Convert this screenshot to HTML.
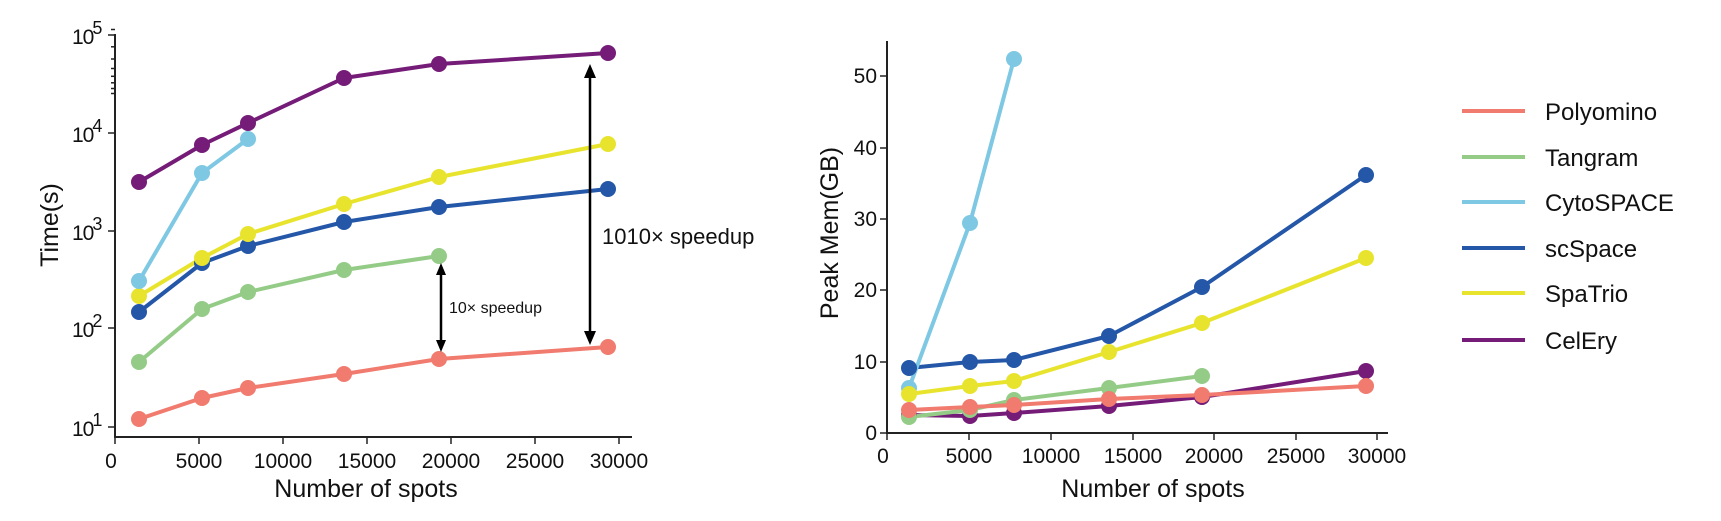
<!DOCTYPE html>
<html><head><meta charset="utf-8"><style>
body{margin:0;background:#fff}
svg{display:block;font-family:"Liberation Sans",sans-serif}
</style></head><body>
<svg width="1721" height="521" viewBox="0 0 1721 521" xmlns="http://www.w3.org/2000/svg">
<rect width="1721" height="521" fill="#fff"/>
<!-- LEFT CHART -->
<g stroke="#222" stroke-width="2" fill="none">
<line x1="115" y1="34" x2="115" y2="438"/>
<line x1="114" y1="437" x2="632" y2="437"/>
</g>
<g stroke="#222" stroke-width="1.5">
<line x1="108" y1="35" x2="115" y2="35"/><line x1="108" y1="133" x2="115" y2="133"/><line x1="108" y1="231" x2="115" y2="231"/><line x1="108" y1="328" x2="115" y2="328"/><line x1="108" y1="427" x2="115" y2="427"/>
<g id="mn">
<line x1="111" y1="0" x2="115" y2="0" transform="translate(0,29.5)"/>
<line x1="111" y1="0" x2="115" y2="0" transform="translate(0,46.8)"/>
<line x1="111" y1="0" x2="115" y2="0" transform="translate(0,59)"/>
<line x1="111" y1="0" x2="115" y2="0" transform="translate(0,68.5)"/>
<line x1="111" y1="0" x2="115" y2="0" transform="translate(0,76.3)"/>
<line x1="111" y1="0" x2="115" y2="0" transform="translate(0,82.8)"/>
<line x1="111" y1="0" x2="115" y2="0" transform="translate(0,88.5)"/>
<line x1="111" y1="0" x2="115" y2="0" transform="translate(0,93.5)"/>
</g>
<use href="#mn" transform="translate(0,-98)"/>
<use href="#mn" transform="translate(0,-196)"/>
<use href="#mn" transform="translate(0,-294)"/>
<use href="#mn" transform="translate(0,-392)"/>
<line x1="115" y1="437" x2="115" y2="444"/><line x1="199" y1="437" x2="199" y2="444"/><line x1="283" y1="437" x2="283" y2="444"/><line x1="367" y1="437" x2="367" y2="444"/><line x1="451" y1="437" x2="451" y2="444"/><line x1="535" y1="437" x2="535" y2="444"/><line x1="619" y1="437" x2="619" y2="444"/>
</g>
<g font-size="21" fill="#111" letter-spacing="-1">
<text x="72" y="44">10<tspan font-size="18" dy="-10" dx="-1">5</tspan></text>
<text x="72" y="142">10<tspan font-size="18" dy="-10" dx="-1">4</tspan></text>
<text x="72" y="240">10<tspan font-size="18" dy="-10" dx="-1">3</tspan></text>
<text x="72" y="337">10<tspan font-size="18" dy="-10" dx="-1">2</tspan></text>
<text x="72" y="436">10<tspan font-size="18" dy="-10" dx="-1">1</tspan></text>
</g>
<g font-size="21" fill="#111" text-anchor="middle">
<text x="111" y="468">0</text><text x="199" y="468">5000</text><text x="283" y="468">10000</text><text x="367" y="468">15000</text><text x="451" y="468">20000</text><text x="535" y="468">25000</text><text x="619" y="468">30000</text>
</g>
<text x="366" y="497" font-size="25" text-anchor="middle" fill="#111">Number of spots</text>
<text transform="translate(58,225) rotate(-90)" font-size="25" text-anchor="middle" fill="#111">Time(s)</text>

<g fill="none" stroke-width="4" stroke-linejoin="round">
<polyline stroke="#F07B6E" points="139,419 202,398 248,388 344,374 439,359 608,347"/>
<polyline stroke="#94CC87" points="139,362 202,309 248,292 344,270 439,256"/>
<polyline stroke="#2457A8" points="139,312 202,263 248,246 344,222 439,207 608,189"/>
<polyline stroke="#E8E42E" points="139,296 202,258 248,234 344,204 439,177 608,144"/>
<polyline stroke="#7EC8E3" points="139,281 202,173 248,139"/>
<polyline stroke="#751B78" points="139,182 202,145 248,123 344,78 439,64 608,53"/>
</g>
<g fill="#F07B6E"><circle cx="139" cy="419" r="8"/><circle cx="202" cy="398" r="8"/><circle cx="248" cy="388" r="8"/><circle cx="344" cy="374" r="8"/><circle cx="439" cy="359" r="8"/><circle cx="608" cy="347" r="8"/></g>
<g fill="#94CC87"><circle cx="139" cy="362" r="8"/><circle cx="202" cy="309" r="8"/><circle cx="248" cy="292" r="8"/><circle cx="344" cy="270" r="8"/><circle cx="439" cy="256" r="8"/></g>
<g fill="#2457A8"><circle cx="139" cy="312" r="8"/><circle cx="202" cy="263" r="8"/><circle cx="248" cy="246" r="8"/><circle cx="344" cy="222" r="8"/><circle cx="439" cy="207" r="8"/><circle cx="608" cy="189" r="8"/></g>
<g fill="#E8E42E"><circle cx="139" cy="296" r="8"/><circle cx="202" cy="258" r="8"/><circle cx="248" cy="234" r="8"/><circle cx="344" cy="204" r="8"/><circle cx="439" cy="177" r="8"/><circle cx="608" cy="144" r="8"/></g>
<g fill="#7EC8E3"><circle cx="139" cy="281" r="8"/><circle cx="202" cy="173" r="8"/><circle cx="248" cy="139" r="8"/></g>
<g fill="#751B78"><circle cx="139" cy="182" r="8"/><circle cx="202" cy="145" r="8"/><circle cx="248" cy="123" r="8"/><circle cx="344" cy="78" r="8"/><circle cx="439" cy="64" r="8"/><circle cx="608" cy="53" r="8"/></g>

<g stroke="#000" stroke-width="2.5" fill="#000">
<line x1="441" y1="272" x2="441" y2="343"/>
<polygon points="441,263 436,275 446,275" stroke="none"/>
<polygon points="441,352 436,340 446,340" stroke="none"/>
<line x1="590" y1="74" x2="590" y2="335"/>
<polygon points="590,64 584,78 596,78" stroke="none"/>
<polygon points="590,345 584,331 596,331" stroke="none"/>
</g>
<text x="449" y="313" font-size="16" fill="#111">10× speedup</text>
<text x="602" y="244" font-size="22" fill="#111">1010× speedup</text>

<!-- RIGHT CHART -->
<g stroke="#222" stroke-width="2" fill="none">
<line x1="887" y1="41" x2="887" y2="434"/>
<line x1="886" y1="433" x2="1388" y2="433"/>
</g>
<g stroke="#222" stroke-width="1.5">
<line x1="880" y1="433" x2="887" y2="433"/><line x1="880" y1="362" x2="887" y2="362"/><line x1="880" y1="290" x2="887" y2="290"/><line x1="880" y1="219" x2="887" y2="219"/><line x1="880" y1="148" x2="887" y2="148"/><line x1="880" y1="76" x2="887" y2="76"/>
<line x1="887" y1="433" x2="887" y2="440"/><line x1="969" y1="433" x2="969" y2="440"/><line x1="1051" y1="433" x2="1051" y2="440"/><line x1="1133" y1="433" x2="1133" y2="440"/><line x1="1214" y1="433" x2="1214" y2="440"/><line x1="1296" y1="433" x2="1296" y2="440"/><line x1="1377" y1="433" x2="1377" y2="440"/>
</g>
<g font-size="21" fill="#111" text-anchor="end">
<text x="877" y="440">0</text><text x="877" y="369">10</text><text x="877" y="297">20</text><text x="877" y="226">30</text><text x="877" y="155">40</text><text x="877" y="83">50</text>
</g>
<g font-size="21" fill="#111" text-anchor="middle">
<text x="883" y="463">0</text><text x="969" y="463">5000</text><text x="1051" y="463">10000</text><text x="1133" y="463">15000</text><text x="1214" y="463">20000</text><text x="1296" y="463">25000</text><text x="1377" y="463">30000</text>
</g>
<text x="1153" y="497" font-size="25" text-anchor="middle" fill="#111">Number of spots</text>
<text transform="translate(838,233) rotate(-90)" font-size="25" text-anchor="middle" fill="#111">Peak Mem(GB)</text>

<g fill="none" stroke-width="4" stroke-linejoin="round">
<polyline stroke="#751B78" points="909,415 970,416 1014,413 1109,406 1202,397 1366,371"/>
<polyline stroke="#94CC87" points="909,417 970,410 1014,400 1109,388 1202,376"/>
<polyline stroke="#F07B6E" points="909,410 970,407 1014,405 1109,399 1202,395 1366,386"/>
<polyline stroke="#E8E42E" points="909,394 970,386 1014,381 1109,352 1202,323 1366,258"/>
<polyline stroke="#2457A8" points="909,368 970,362 1014,360 1109,336 1202,287 1366,175"/>
<polyline stroke="#7EC8E3" points="909,388 970,223 1014,59"/>
</g>
<g fill="#751B78"><circle cx="909" cy="415" r="8"/><circle cx="970" cy="416" r="8"/><circle cx="1014" cy="413" r="8"/><circle cx="1109" cy="406" r="8"/><circle cx="1202" cy="397" r="8"/><circle cx="1366" cy="371" r="8"/></g>
<g fill="#94CC87"><circle cx="909" cy="417" r="8"/><circle cx="970" cy="410" r="8"/><circle cx="1014" cy="400" r="8"/><circle cx="1109" cy="388" r="8"/><circle cx="1202" cy="376" r="8"/></g>
<g fill="#7EC8E3"><circle cx="909" cy="388" r="8"/><circle cx="970" cy="223" r="8"/><circle cx="1014" cy="59" r="8"/></g>
<g fill="#F07B6E"><circle cx="909" cy="410" r="8"/><circle cx="970" cy="407" r="8"/><circle cx="1014" cy="405" r="8"/><circle cx="1109" cy="399" r="8"/><circle cx="1202" cy="395" r="8"/><circle cx="1366" cy="386" r="8"/></g>
<g fill="#E8E42E"><circle cx="909" cy="394" r="8"/><circle cx="970" cy="386" r="8"/><circle cx="1014" cy="381" r="8"/><circle cx="1109" cy="352" r="8"/><circle cx="1202" cy="323" r="8"/><circle cx="1366" cy="258" r="8"/></g>
<g fill="#2457A8"><circle cx="909" cy="368" r="8"/><circle cx="970" cy="362" r="8"/><circle cx="1014" cy="360" r="8"/><circle cx="1109" cy="336" r="8"/><circle cx="1202" cy="287" r="8"/><circle cx="1366" cy="175" r="8"/></g>

<g stroke-width="4">
<line x1="1462" y1="111" x2="1525" y2="111" stroke="#F07B6E"/>
<line x1="1462" y1="157" x2="1525" y2="157" stroke="#94CC87"/>
<line x1="1462" y1="202" x2="1525" y2="202" stroke="#7EC8E3"/>
<line x1="1462" y1="248" x2="1525" y2="248" stroke="#2457A8"/>
<line x1="1462" y1="293" x2="1525" y2="293" stroke="#E8E42E"/>
<line x1="1462" y1="340" x2="1525" y2="340" stroke="#751B78"/>
</g>
<g font-size="24" fill="#111">
<text x="1545" y="120">Polyomino</text>
<text x="1545" y="166">Tangram</text>
<text x="1545" y="211">CytoSPACE</text>
<text x="1545" y="257">scSpace</text>
<text x="1545" y="302">SpaTrio</text>
<text x="1545" y="349">CelEry</text>
</g>
</svg>
</body></html>
